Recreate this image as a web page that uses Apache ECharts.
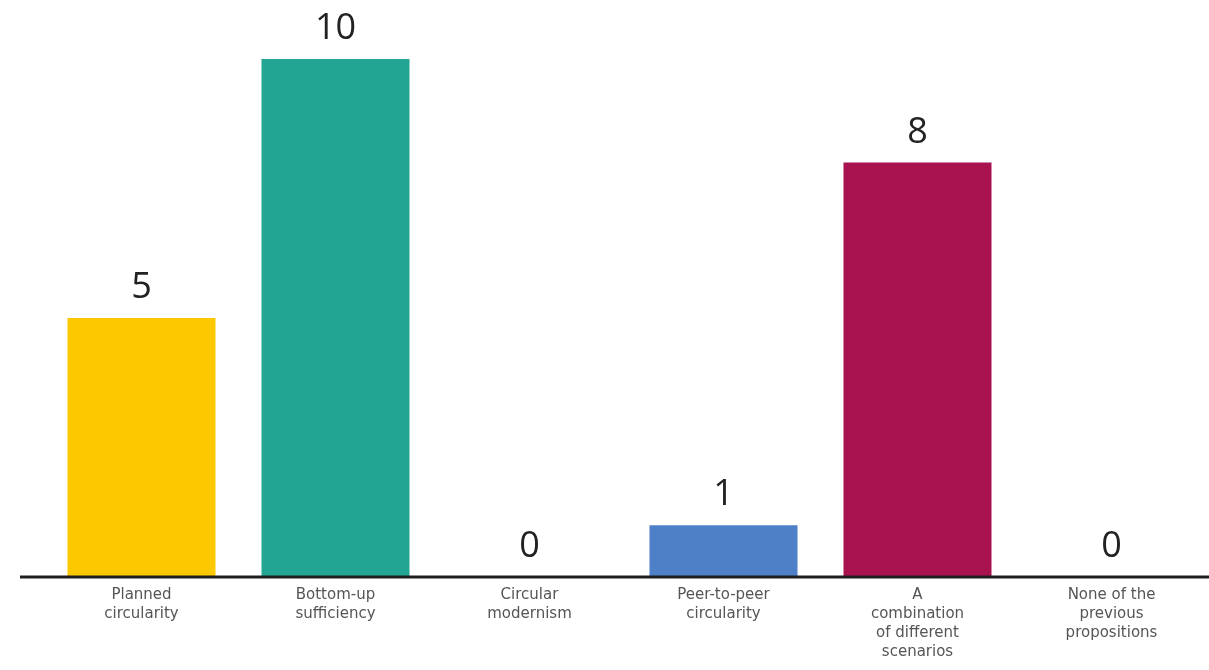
<!DOCTYPE html>
<html><head><meta charset="utf-8">
<script src="https://cdn.jsdelivr.net/npm/echarts@6/dist/echarts.min.js"></script>
<style>html,body{margin:0;padding:0;background:#fff}#c{width:1209px;height:670px}</style>
</head><body><div id="c"></div>
<script>
const categories = ["Planned\ncircularity", "Bottom-up\nsufficiency", "Circular\nmodernism", "Peer-to-peer\ncircularity", "A\ncombination\nof different\nscenarios", "None of the\nprevious\npropositions"];
const values = [5, 10, 0, 1, 8, 0];
const colors = ["#FCC800", "#22A592", "#FCC800", "#4D80C6", "#A8124F", "#FCC800"];

const chart = echarts.init(document.getElementById('c'));
chart.setOption({
  backgroundColor: '#ffffff',
  animation: false,
  grid: {left: 44.5, right: 0.5, top: 59, bottom: 93},
  xAxis: {
    type: 'category', data: categories,
    axisLine: {show: false},
    axisTick: {show: false},
    axisLabel: {color: '#555', fontSize: 15, lineHeight: 19, margin: 9, fontFamily: '"DejaVu Sans", sans-serif', interval: 0}
  },
  yAxis: {type: 'value', min: 0, max: 10, show: false, splitLine: {show: false}},
  series: [{
    type: 'bar', barWidth: 148,
    data: values.map((v, i) => ({value: v, itemStyle: {color: colors[i]}})),
    label: {show: true, position: 'top', distance: 12, color: '#222', fontSize: 36, fontFamily: '"Open Sans", sans-serif'}
  }]
});
const y0 = chart.convertToPixel({gridIndex: 0}, [0, 0])[1];
chart.setOption({graphic: [{type: 'line', z: 100, shape: {x1: 20, y1: y0, x2: 1209, y2: y0}, style: {stroke: '#1e1e1e', lineWidth: 3}}]});
</script></body></html>
